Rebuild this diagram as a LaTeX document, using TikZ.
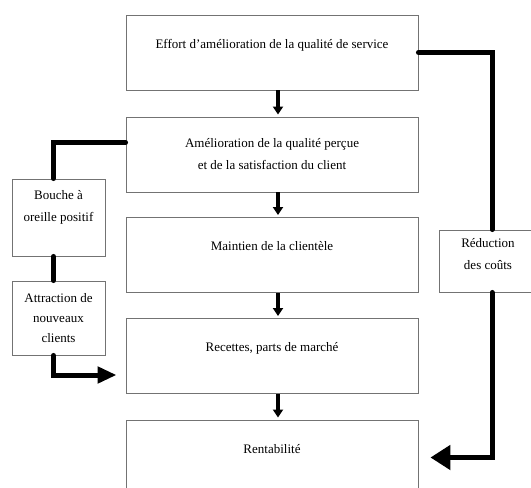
\documentclass[tikz,border=0pt]{standalone}
\usepackage{fontspec}
\setmainfont{Liberation Serif}
\usetikzlibrary{arrows.meta}
\begin{document}
\begin{tikzpicture}[x=1pt,y=-1pt,
		etape/.style={draw=black!55,line width=0.9pt,minimum width=292pt,minimum height=75pt,align=center,inner ysep=0pt,font=\fontsize{13}{22}\selectfont},
		haut/.style={text height=33pt,text depth=42pt},
		cote/.style={draw=black!55,line width=0.9pt,minimum width=93pt,align=center,inner ysep=0pt,font=\fontsize{13}{22}\selectfont},
		fleche/.style={line width=4pt,-{Triangle[width=10pt,length=8pt]},shorten >=2pt},
		lien/.style={line width=5pt,line cap=round}]
		\useasboundingbox (0,0) rectangle (531,488);
		\node[etape,haut] (effort) at (272,52.5) {Effort d'amélioration de la qualité de service};
		\node[etape] (qualite) at (272,154.5) {Amélioration de la qualité perçue\\et de la satisfaction du client};
		\node[etape,haut] (maintien) at (272,255) {Maintien de la clientèle};
		\node[etape,haut] (recettes) at (272,356) {Recettes, parts de marché};
		\node[etape,haut] (renta) at (272,457.5) {Rentabilité};
		\node[cote,text height=42pt,text depth=35pt] (bouche) at (58.5,217.5) {Bouche à\\oreille positif};
		\node[cote,minimum height=74pt,font=\fontsize{13}{20}\selectfont] (attraction) at (58.5,318) {Attraction de\\nouveaux\\clients};
		\node[cote,minimum width=98pt,text height=39pt,text depth=23pt] (reduction) at (488,261) {Réduction\\des coûts};
		\draw[fleche] ([xshift=6pt]effort.south) -- ([xshift=6pt]qualite.north);
		\draw[fleche] ([xshift=6pt]qualite.south) -- ([xshift=6pt]maintien.north);
		\draw[fleche] ([xshift=6pt]maintien.south) -- ([xshift=6pt]recettes.north);
		\draw[fleche] ([xshift=6pt]recettes.south) -- ([xshift=6pt]renta.north);
		\draw[lien] (effort.east) -| ([xshift=4pt]reduction.north);
		\draw[lien,-{Triangle[width=24pt,length=20pt]},shorten >=12pt] ([xshift=4pt]reduction.south) |- (renta.east);
		\draw[lien] ([yshift=12pt]qualite.west) -| ([xshift=-5pt]bouche.north);
		\draw[lien] ([xshift=-5pt]bouche.south) -- ([xshift=-5pt]attraction.north);
		\draw[lien,-{Triangle[width=16pt,length=19pt]},shorten >=9pt] ([xshift=-5pt]attraction.south) |- ([yshift=-19pt]recettes.west);
	\end{tikzpicture}
\end{document}
